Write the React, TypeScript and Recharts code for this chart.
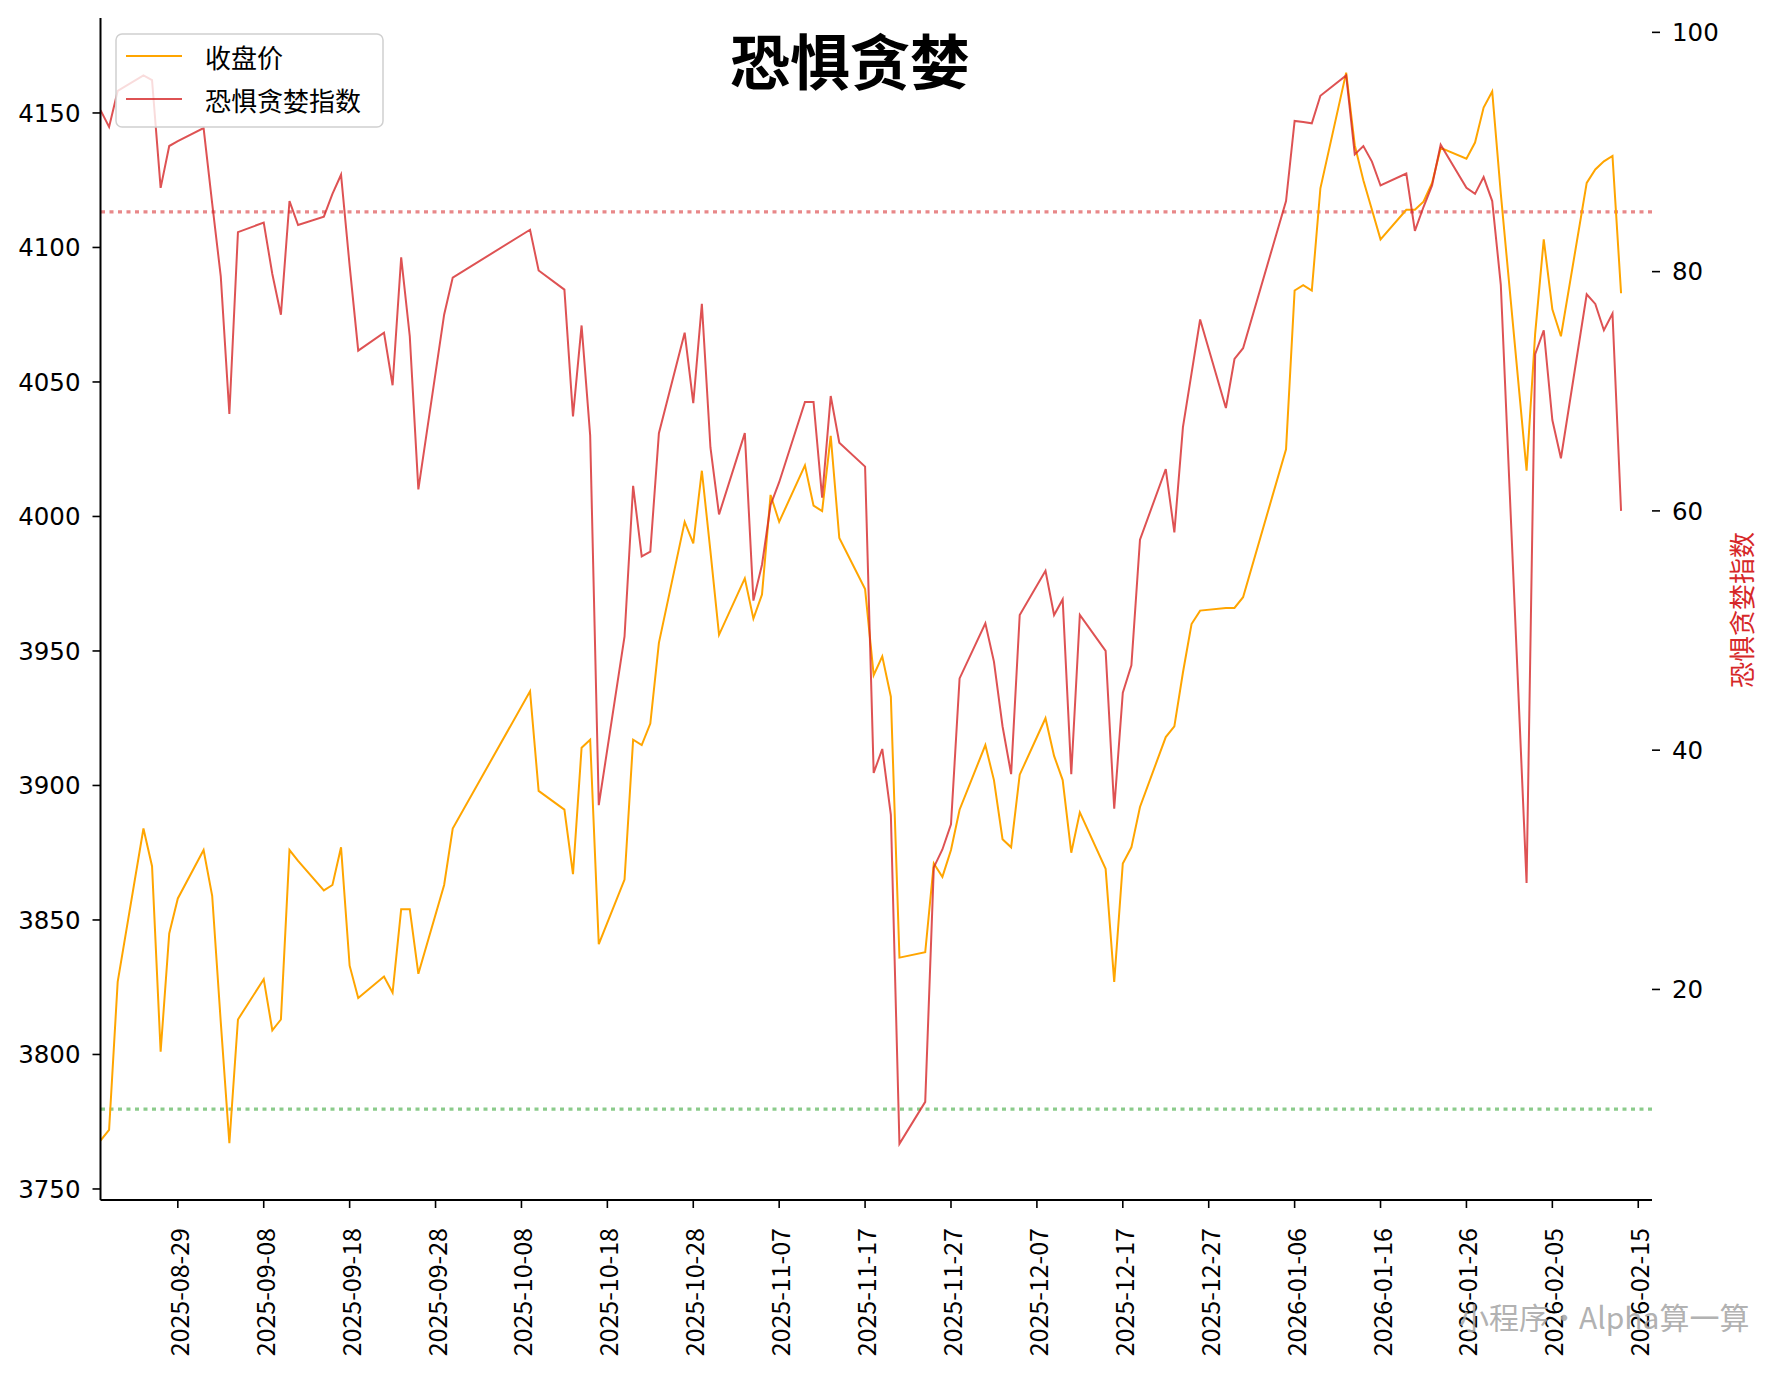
import React from "react";
import { LineChart, Line, XAxis, YAxis, ReferenceLine } from "recharts";

const dates: string[] = [
  "2025-08-20", "2025-08-21", "2025-08-22", "2025-08-25", "2025-08-26", "2025-08-27", "2025-08-28", "2025-08-29",
  "2025-09-01", "2025-09-02", "2025-09-03", "2025-09-04", "2025-09-05", "2025-09-08", "2025-09-09", "2025-09-10",
  "2025-09-11", "2025-09-12", "2025-09-15", "2025-09-16", "2025-09-17", "2025-09-18", "2025-09-19", "2025-09-22",
  "2025-09-23", "2025-09-24", "2025-09-25", "2025-09-26", "2025-09-29", "2025-09-30",
  "2025-10-09", "2025-10-10", "2025-10-13", "2025-10-14", "2025-10-15", "2025-10-16", "2025-10-17", "2025-10-20",
  "2025-10-21", "2025-10-22", "2025-10-23", "2025-10-24", "2025-10-27", "2025-10-28", "2025-10-29", "2025-10-30",
  "2025-10-31",
  "2025-11-03", "2025-11-04", "2025-11-05", "2025-11-06", "2025-11-07", "2025-11-10", "2025-11-11", "2025-11-12",
  "2025-11-13", "2025-11-14", "2025-11-17", "2025-11-18", "2025-11-19", "2025-11-20", "2025-11-21", "2025-11-24",
  "2025-11-25", "2025-11-26", "2025-11-27", "2025-11-28",
  "2025-12-01", "2025-12-02", "2025-12-03", "2025-12-04", "2025-12-05", "2025-12-08", "2025-12-09", "2025-12-10",
  "2025-12-11", "2025-12-12", "2025-12-15", "2025-12-16", "2025-12-17", "2025-12-18", "2025-12-19", "2025-12-22",
  "2025-12-23", "2025-12-24", "2025-12-25", "2025-12-26", "2025-12-29", "2025-12-30", "2025-12-31",
  "2026-01-05", "2026-01-06", "2026-01-07", "2026-01-08", "2026-01-09", "2026-01-12", "2026-01-13", "2026-01-14",
  "2026-01-15", "2026-01-16", "2026-01-19", "2026-01-20", "2026-01-21", "2026-01-22", "2026-01-23", "2026-01-26",
  "2026-01-27", "2026-01-28", "2026-01-29", "2026-01-30",
  "2026-02-02", "2026-02-03", "2026-02-04", "2026-02-05", "2026-02-06", "2026-02-09", "2026-02-10", "2026-02-11",
  "2026-02-12", "2026-02-13",
];

const closePrice: number[] = [
  3768, 3772, 3827, 3884, 3870, 3801, 3845, 3858,
  3876, 3859, 3812, 3767, 3813, 3828, 3809, 3813, 3876, 3872, 3861, 3863, 3877, 3833, 3821, 3829, 3823, 3854, 3854, 3830, 3863, 3884,
  3935, 3898, 3891, 3867, 3914, 3917, 3841, 3865, 3917, 3915, 3923, 3953, 3998, 3990, 4017, 3987, 3956,
  3977, 3962, 3971, 4008, 3998, 4019, 4004, 4002, 4030, 3992, 3973, 3941, 3948, 3933, 3836, 3838, 3871, 3866, 3876, 3891,
  3915, 3902, 3880, 3877, 3904, 3925, 3911, 3902, 3875, 3890, 3869, 3827, 3871, 3877, 3892, 3918, 3922, 3942, 3960, 3965, 3966, 3966, 3970,
  4025, 4084, 4086, 4084, 4122, 4165, 4138, 4125, 4114, 4103, 4114, 4114, 4117, 4124, 4137, 4133, 4139, 4152, 4158, 4120,
  4017, 4068, 4103, 4077, 4067, 4124, 4129, 4132, 4134, 4083,
];

const fearGreed: number[] = [
  93.5, 92.1, 95.1, 96.4, 96.0, 87.0, 90.5, 90.9,
  92.0, 85.7, 79.6, 68.1, 83.3, 84.1, 79.8, 76.4, 85.9, 83.9, 84.6, 86.5, 88.1, 80.5, 73.4, 74.9, 70.5, 81.2, 74.6, 61.8, 76.4, 79.5,
  83.5, 80.1, 78.5, 67.9, 75.5, 66.3, 35.4, 49.5, 62.1, 56.2, 56.6, 66.5, 74.9, 69.0, 77.3, 65.3, 59.7,
  66.5, 52.5, 55.5, 60.5, 62.4, 69.1, 69.1, 61.1, 69.6, 65.7, 63.7, 38.1, 40.1, 34.6, 7.1, 10.6, 30.2, 31.7, 33.8, 46.0,
  50.6, 47.4, 42.0, 38.0, 51.3, 55.0, 51.3, 52.6, 38.0, 51.3, 48.3, 35.1, 44.8, 47.1, 57.6, 63.5, 58.2, 67.0, 71.5, 76.0, 68.6, 72.7, 73.6,
  85.9, 92.6, 92.5, 92.4, 94.7, 96.4, 89.8, 90.5, 89.2, 87.2, 88.2, 83.4, 85.4, 87.2, 90.6, 87.0, 86.5, 87.9, 85.9, 78.9,
  28.9, 73.1, 75.1, 67.6, 64.4, 78.1, 77.3, 75.1, 76.5, 60.0,
];

const xTickLabels: string[] = [
  "2025-08-29", "2025-09-08", "2025-09-18", "2025-09-28", "2025-10-08", "2025-10-18", "2025-10-28", "2025-11-07",
  "2025-11-17", "2025-11-27", "2025-12-07", "2025-12-17", "2025-12-27", "2026-01-06", "2026-01-16", "2026-01-26",
  "2026-02-05", "2026-02-15",
];
const leftTicks: number[] = [3750, 3800, 3850, 3900, 3950, 4000, 4050, 4100, 4150];
const rightTicks: number[] = [20, 40, 60, 80, 100];
const greedLine = 85;
const fearLine = 10;

const seriesNames = { close: "收盘价", fg: "恐惧贪婪指数" };
const titleText = "恐惧贪婪";
const watermarkText = "小程序•Alpha算一算";

const FONT = '"Noto Sans CJK SC", "Noto Sans", sans-serif';
const NUM_FONT = '"DejaVu Sans", sans-serif';
const ORANGE = "#FFA500";
const RED = "#d62728";

const toUTC = (s: string) => {
  const [y, m, d] = s.split("-").map(Number);
  return Date.UTC(y, m - 1, d);
};
const BASE = toUTC(dates[0]);
const dayIndex = (s: string) => (toUTC(s) - BASE) / 86400000;

const xTicks = xTickLabels.map(dayIndex);

const XTick = (props: any) => {
  const { x, y, payload } = props;
  const idx = xTicks.indexOf(payload.value);
  const label = idx >= 0 ? xTickLabels[idx] : "";
  return (
    <text
      x={x}
      y={y}
      transform={`rotate(-90 ${x} ${y})`}
      textAnchor="end"
      dominantBaseline="central"
      fontSize={25}
      fontFamily={FONT}
      fill="#000"
    >
      {label}
    </text>
  );
};

export default function App() {
  const data = dates.map((dt, i) => ({ d: dayIndex(dt), close: closePrice[i], fg: fearGreed[i] }));
  return (
    <div
      style={{
        position: "absolute",
        left: 0,
        top: 0,
        width: 1775,
        height: 1375,
        background: "#fff",
        fontFamily: FONT,
      }}
    >
      <LineChart width={1775} height={1375} data={data} margin={{ top: 18, right: 0, bottom: 0, left: 0 }}>
        <XAxis
          dataKey="d"
          type="number"
          domain={[0, 180.6]}
          ticks={xTicks}
          interval={0}
          allowDataOverflow
          tick={<XTick />}
          tickSize={8}
          tickMargin={20}
          height={175}
          axisLine={{ stroke: "#000", strokeWidth: 2 }}
          tickLine={{ stroke: "#000", strokeWidth: 1.6 }}
        />
        <YAxis
          yAxisId="left"
          domain={[3745.9, 4185.3]}
          ticks={leftTicks}
          interval={0}
          allowDataOverflow
          width={100.5}
          tickSize={8}
          tickMargin={12}
          tick={{ fontSize: 24.5, fill: "#000", fontFamily: NUM_FONT }}
          axisLine={{ stroke: "#000", strokeWidth: 2 }}
          tickLine={{ stroke: "#000", strokeWidth: 1.6 }}
        />
        <YAxis
          yAxisId="right"
          orientation="right"
          domain={[2.4, 101.2]}
          ticks={rightTicks}
          interval={0}
          allowDataOverflow
          width={123}
          tickSize={8}
          tickMargin={12}
          tick={{ fontSize: 24.5, fill: "#000", fontFamily: NUM_FONT }}
          axisLine={false}
          tickLine={{ stroke: "#000", strokeWidth: 1.6 }}
        />
        <ReferenceLine
          yAxisId="right"
          y={greedLine}
          stroke={RED}
          strokeOpacity={0.55}
          strokeWidth={3.2}
          strokeDasharray="4 4.5"
        />
        <ReferenceLine
          yAxisId="right"
          y={fearLine}
          stroke="#2ca02c"
          strokeOpacity={0.55}
          strokeWidth={3.2}
          strokeDasharray="4 4.5"
        />
        <Line
          yAxisId="left"
          type="linear"
          dataKey="close"
          name={seriesNames.close}
          stroke={ORANGE}
          strokeWidth={2}
          dot={false}
          activeDot={false}
          isAnimationActive={false}
        />
        <Line
          yAxisId="right"
          type="linear"
          dataKey="fg"
          name={seriesNames.fg}
          stroke={RED}
          strokeOpacity={0.8}
          strokeWidth={2}
          dot={false}
          activeDot={false}
          isAnimationActive={false}
        />
      </LineChart>
      <svg
        width={1775}
        height={1375}
        style={{ position: "absolute", left: 0, top: 0, pointerEvents: "none" }}
      >
        <text
          x={850}
          y={58}
          textAnchor="middle"
          dominantBaseline="central"
          fontSize={60}
          fontWeight="bold"
          fontFamily={FONT}
          fill="#000"
        >
          {titleText}
        </text>
        <g>
          <rect
            x={116}
            y={34}
            width={267}
            height={93}
            rx={6}
            ry={6}
            fill="#fff"
            fillOpacity={0.8}
            stroke="#d0d0d0"
            strokeWidth={1.5}
          />
          <line x1={126} y1={56} x2={182} y2={56} stroke={ORANGE} strokeWidth={2} />
          <line x1={126} y1={99} x2={182} y2={99} stroke={RED} strokeOpacity={0.8} strokeWidth={2} />
          <text x={205} y={56} dominantBaseline="central" fontSize={26} fontFamily={FONT} fill="#000">
            {seriesNames.close}
          </text>
          <text x={205} y={99} dominantBaseline="central" fontSize={26} fontFamily={FONT} fill="#000">
            {seriesNames.fg}
          </text>
        </g>
        <text
          x={1740}
          y={610}
          transform="rotate(-90 1740 610)"
          textAnchor="middle"
          dominantBaseline="central"
          fontSize={26}
          fontFamily={FONT}
          fill={RED}
        >
          {seriesNames.fg}
        </text>
        <text
          x={1459}
          y={1316}
          dominantBaseline="central"
          fontSize={30}
          fontFamily={FONT}
          fill="#a8a8a8"
          fillOpacity={0.9}
        >
          {watermarkText}
        </text>
      </svg>
    </div>
  );
}
